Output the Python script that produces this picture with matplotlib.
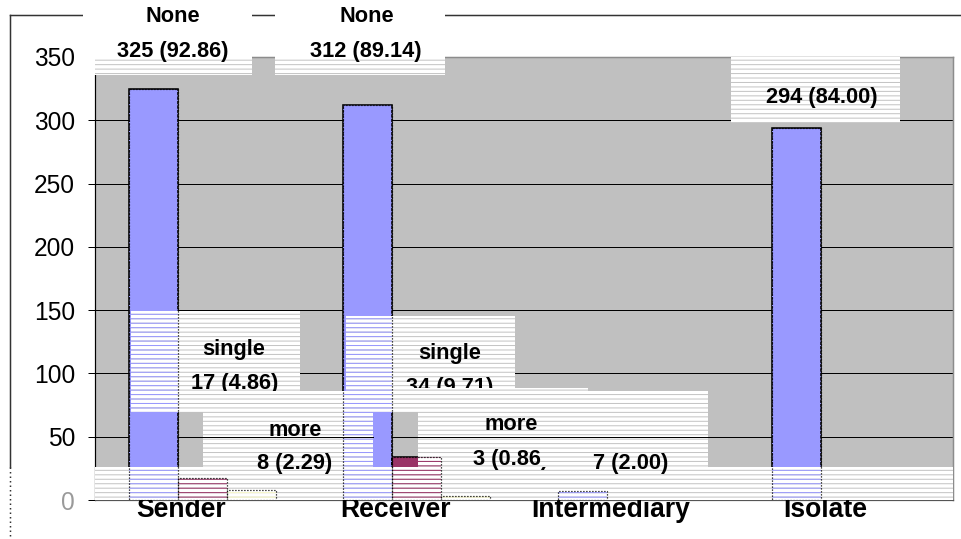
import matplotlib
matplotlib.use("Agg")
import matplotlib.pyplot as plt
import numpy as np
from matplotlib.patches import Rectangle
from matplotlib.lines import Line2D
from matplotlib.transforms import Affine2D, ScaledTranslation, blended_transform_factory

# ---- data -------------------------------------------------------------
categories = ["Sender", "Receiver", "Intermediary", "Isolate"]
series_names = ["None", "single", "more"]
none_counts = [325, 312, 7, 294]
single_counts = [17, 34, 0, 0]
more_counts = [8, 3, 0, 0]
total_nodes = 350
y_ticks = [0, 50, 100, 150, 200, 250, 300, 350]

series_values = [none_counts, single_counts, more_counts]
series_colors = ["#9999FF", "#993366", "#FFFFCC"]

# ---- figure geometry (pixel based) ------------------------------------
W, H, DPI = 961, 539, 107


def pt(px):
    """pixels -> points at the output resolution"""
    return px * 72.0 / DPI


plt.rcParams["font.family"] = ["Liberation Sans", "DejaVu Sans"]
plt.rcParams["hatch.linewidth"] = pt(1.0)

fig = plt.figure(figsize=(W / DPI, H / DPI), dpi=DPI)
fig.patch.set_facecolor("white")
ax = fig.add_axes([95 / W, 1 - 500 / H, 858 / W, 443 / H])
ax.set_facecolor("#C0C0C0")

# transform for pixel positions measured from the top-left corner
px = Affine2D().scale(1.0 / W, -1.0 / H).translate(0, 1) + fig.transFigure

# ---- bars -------------------------------------------------------------
bar_w = 0.228
x = np.arange(len(categories))
for k, (vals, col) in enumerate(zip(series_values, series_colors)):
    vals = np.asarray(vals)
    xs = x + (k - 1) * bar_w
    shown = vals > 0
    ax.bar(xs[shown], vals[shown], bar_w, color=col, edgecolor="black",
           linewidth=pt(1.6), zorder=2)
    # striped see-through rendering where label boxes sit over the bars
    ax.bar(xs[shown], vals[shown], bar_w, facecolor="none", edgecolor=col,
           linewidth=0, hatch="----", zorder=40)
    ax.bar(xs[shown], vals[shown], bar_w, facecolor="none", edgecolor="black",
           linewidth=pt(1.2), linestyle=(0, (1, 1.5)), zorder=41)

ax.set_xlim(-0.5, 3.5)
ax.set_ylim(0, 350)
ax.set_yticks(y_ticks)
ax.set_xticks([])
ax.set_axisbelow(True)
ax.yaxis.grid(True, color="black", linewidth=pt(1.0))
ax.tick_params(axis="y", direction="out", length=pt(7), width=pt(1.0),
               labelsize=pt(24.5), pad=pt(13), colors="black")
ax.get_yticklabels()[0].set_color("#9a9a9a")

for side in ("top", "right"):
    ax.spines[side].set_color("#8c8c8c")
    ax.spines[side].set_linewidth(pt(1.5))
ax.spines["left"].set_color("black")
ax.spines["left"].set_linewidth(pt(1.2))
ax.spines["bottom"].set_color("#555555")
ax.spines["bottom"].set_linewidth(pt(1.2))

# category names below the axis
cat_tr = blended_transform_factory(ax.transData, px) + \
    ScaledTranslation(-21 / DPI, 0, fig.dpi_scale_trans)
for i, name in enumerate(categories):
    ax.text(x[i], 517, name, transform=cat_tr, ha="center", va="baseline",
            fontsize=pt(26.5), fontweight="bold", clip_on=False)

# ---- outer chart frame -------------------------------------------------
fig.add_artist(Line2D([10, 961], [15, 15], transform=px, color="#333333",
                      linewidth=pt(1.5), zorder=-1))
fig.add_artist(Line2D([10, 10], [15, 467], transform=px, color="#333333",
                      linewidth=pt(1.5), zorder=-1))
fig.add_artist(Line2D([10, 10], [467, 539], transform=px, color="#333333",
                      linewidth=pt(1.5), linestyle=(0, (1, 2)), zorder=-1))


# ---- data labels (series name + count with percentage) -----------------
def value_label(s, c):
    v = series_values[s][c]
    return f"{v} ({100.0 * v / total_nodes:.2f})"


LABEL_PX = 21.8

# (series, category, box x0, x1, y0, y1, name xy, value xy, gridline on top)
label_layout = [
    (None, None, (95, 953, 467, 500), None, None, False),
    (0, 0, (83, 252, 3, 75), (173, 17), (173, 52), False),
    (0, 1, (275, 445, 3, 75), (367, 17), (366, 52), False),
    (0, 3, (731, 900, 57, 123), None, (822, 98), False),
    (1, 0, (131, 300, 311, 391), (234, 349), (235, 383), False),
    (1, 1, (346, 515, 316, 388), (450, 354), (450, 388), False),
    (None, None, (346, 588, 388, 393), None, None, False),
    (None, None, (131, 708, 391, 412), None, None, False),
    (2, 0, (203, 373, 412, 467), (295, 430), (295, 463), True),
    (2, 1, (418, 588, 412, 467), (511, 425), (511, 460), True),
    (0, 2, (541, 708, 393, 467), None, (631, 463), True),
]

grid_tr = blended_transform_factory(px, ax.transData)
z = 10
for s, c, (x0, x1, y0, y1), name_xy, val_xy, grid_on_top in label_layout:
    # white label background (may reach outside the plot area)
    ax.add_artist(Rectangle((x0, y0), x1 - x0, y1 - y0, transform=px,
                            facecolor="white", edgecolor="none", linewidth=0,
                            zorder=z, clip_on=False))
    # fine horizontal stripes, only inside the plot area
    stripes = Rectangle((x0, y0), x1 - x0, y1 - y0, transform=px,
                        facecolor="none", edgecolor="#C4C4C4", linewidth=0,
                        hatch="----", zorder=z + 0.05)
    ax.add_artist(stripes)
    stripes.set_clip_path(ax.patch)
    if grid_on_top:
        ax.add_artist(Line2D([x0, x1], [y_ticks[1], y_ticks[1]],
                             transform=grid_tr, color="black",
                             linewidth=pt(1.0), zorder=z + 0.1))
    if name_xy is not None:
        ax.text(*name_xy, series_names[s], transform=px, ha="center",
                va="center", fontsize=pt(LABEL_PX), fontweight="bold",
                zorder=z + 0.5, clip_on=False)
    if val_xy is not None:
        ax.text(*val_xy, value_label(s, c), transform=px, ha="center",
                va="center", fontsize=pt(LABEL_PX), fontweight="bold",
                zorder=z + 0.5, clip_on=False)
    z += 1

fig.savefig("out.png", dpi=DPI, facecolor="white")
